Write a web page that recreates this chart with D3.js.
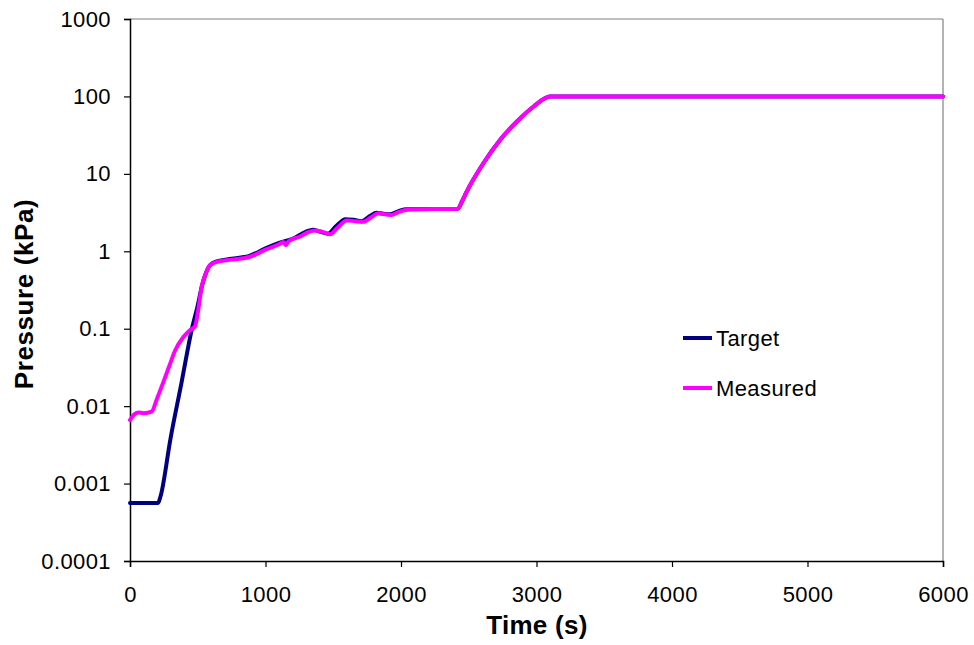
<!DOCTYPE html>
<html>
<head>
<meta charset="utf-8">
<script src="https://cdn.jsdelivr.net/npm/d3@7"></script>
<style>
  html, body { margin: 0; padding: 0; background: #fff; }
  svg { display: block; font-family: "Liberation Sans", Arial, sans-serif; }
</style>
</head>
<body>
<svg id="chart" width="974" height="645"></svg>
<script>
// ---- data ----
const xTicks = [0, 1000, 2000, 3000, 4000, 5000, 6000];
const yTicks = [0.0001, 0.001, 0.01, 0.1, 1, 10, 100, 1000];
const yTickLabels = ["0.0001", "0.001", "0.01", "0.1", "1", "10", "100", "1000"];

const targetTime = [0, 207, 225, 300, 380, 457, 500, 530, 560, 590, 640, 750, 886, 1000, 1100, 1200, 1300, 1350, 1400, 1460, 1520, 1590, 1650, 1710, 1770, 1820, 1870, 1920, 1990, 2040, 2420, 2450, 2485, 2608, 2731, 2854, 2977, 3100, 6000];
const targetValue = [0.00056, 0.00056, 0.00068, 0.0039, 0.020, 0.1, 0.2, 0.35, 0.52, 0.66, 0.74, 0.80, 0.88, 1.09, 1.28, 1.45, 1.8, 1.9, 1.8, 1.68, 2.1, 2.6, 2.55, 2.45, 2.85, 3.15, 3.05, 3.0, 3.35, 3.5, 3.55, 4.4, 5.9, 13.7, 27.4, 47.1, 73.6, 100, 100];

const measuredTime = [0, 30, 60, 100, 160, 200, 244, 290, 332, 394, 440, 480, 500, 529, 560, 590, 640, 750, 886, 1000, 1100, 1131, 1150, 1170, 1255, 1320, 1365, 1420, 1476, 1530, 1600, 1660, 1722, 1780, 1833, 1880, 1931, 1990, 2042, 2100, 2420, 2450, 2485, 2608, 2731, 2854, 2977, 3100, 6000];
const measuredValue = [0.0066, 0.0078, 0.0083, 0.0081, 0.0085, 0.0126, 0.020, 0.033, 0.052, 0.078, 0.095, 0.107, 0.16, 0.35, 0.52, 0.66, 0.73, 0.78, 0.85, 1.05, 1.23, 1.32, 1.20, 1.35, 1.55, 1.78, 1.86, 1.78, 1.66, 2.0, 2.5, 2.45, 2.4, 2.75, 3.1, 3.0, 2.95, 3.25, 3.45, 3.5, 3.55, 4.4, 5.9, 13.7, 27.4, 47.1, 73.6, 100, 100];

const seriesNames = ["Target", "Measured"];
const seriesColors = ["#000080", "#FF00FF"];

// ---- layout ----
const L = 130, R = 943, T = 19, B = 561;
const svg = d3.select("#chart");

const x = d3.scaleLinear().domain([0, 6000]).range([L, R]);
const y = d3.scaleLog().domain([0.0001, 1000]).range([B, T]);

// plot border (top/right)
svg.append("line").attr("x1", L).attr("x2", R).attr("y1", T).attr("y2", T)
  .attr("stroke", "#808080").attr("stroke-width", 1.2);
svg.append("line").attr("x1", R).attr("x2", R).attr("y1", T).attr("y2", B)
  .attr("stroke", "#808080").attr("stroke-width", 1.2);

// x axis
const xAxis = d3.axisBottom(x).tickValues(xTicks).tickSize(6).tickPadding(19).tickFormat(d3.format("d"));
const gx = svg.append("g").attr("transform", `translate(0,${B})`).call(xAxis);
gx.select(".domain").attr("stroke", "#000").attr("stroke-width", 1.5);
gx.selectAll(".tick line").attr("stroke", "#000").attr("stroke-width", 1.2);
gx.selectAll("text").attr("font-size", 22).attr("fill", "#000").attr("letter-spacing", 0.4)
  .attr("font-family", "Liberation Sans, Arial, sans-serif");

// y axis
const yAxis = d3.axisLeft(y).tickValues(yTicks).tickSize(6).tickPadding(13)
  .tickFormat((d, i) => yTickLabels[i]);
const gy = svg.append("g").attr("transform", `translate(${L},0)`).call(yAxis);
gy.select(".domain").attr("stroke", "#000").attr("stroke-width", 1.5);
gy.selectAll(".tick line").attr("stroke", "#000").attr("stroke-width", 1.2);
gy.selectAll("text").attr("font-size", 22).attr("fill", "#000").attr("letter-spacing", 0.4)
  .attr("font-family", "Liberation Sans, Arial, sans-serif");

// lines
const line = d3.line().x(d => x(d[0])).y(d => y(d[1])).curve(d3.curveMonotoneX);
const series = [
  d3.zip(targetTime, targetValue),
  d3.zip(measuredTime, measuredValue)
];
series.forEach((s, i) => {
  svg.append("path").datum(s).attr("d", line)
    .attr("fill", "none").attr("stroke", seriesColors[i])
    .attr("stroke-width", 4).attr("stroke-linejoin", "round").attr("stroke-linecap", "round");
});

// axis titles
svg.append("text").attr("x", 537).attr("y", 634).attr("text-anchor", "middle")
  .attr("font-size", 26).attr("font-weight", "bold").attr("letter-spacing", 0.3).text("Time (s)");
svg.append("text").attr("transform", "translate(33,294) rotate(-90)").attr("text-anchor", "middle")
  .attr("font-size", 26).attr("font-weight", "bold").attr("letter-spacing", 0.6).text("Pressure (kPa)");

// legend
const legY = [338, 388];
seriesNames.forEach((n, i) => {
  svg.append("line").attr("x1", 683).attr("x2", 712).attr("y1", legY[i]).attr("y2", legY[i])
    .attr("stroke", seriesColors[i]).attr("stroke-width", 4);
  svg.append("text").attr("x", 716).attr("y", legY[i]).attr("dy", "0.35em")
    .attr("font-size", 22).attr("letter-spacing", 0.4).text(n);
});
</script>
</body>
</html>
